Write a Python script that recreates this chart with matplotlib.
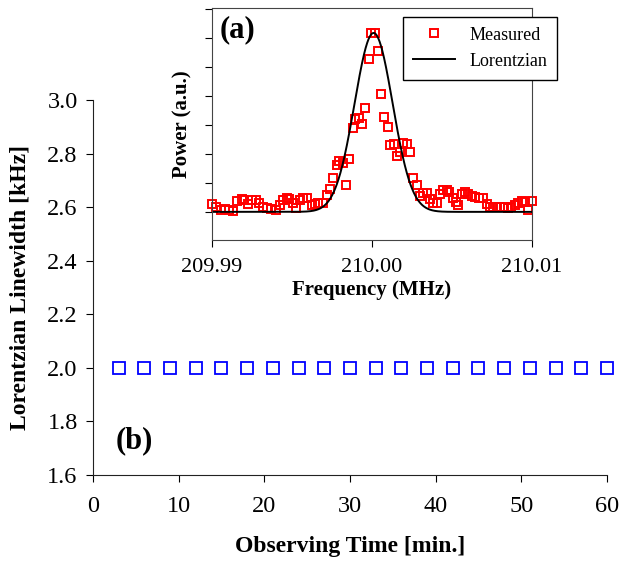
import numpy as np
import matplotlib
matplotlib.use('Agg')
import matplotlib.pyplot as plt

################################## DATA ##################################

# (b) linewidth vs observing time
obs_time = [3, 6, 9, 12, 15, 18, 21, 24, 27, 30, 33, 36, 39, 42, 45, 48, 51, 54, 57, 60]
linewidth = [2.0] * 20

# (a) measured spectrum: offset from 209.99 MHz in kHz, power in a.u.
meas_df_khz = [0.00, 0.25, 0.54, 0.81, 1.08, 1.33, 1.58, 1.85, 2.00, 2.27,
               2.52, 2.75, 2.96, 3.17, 3.42, 3.69, 4.00, 4.25, 4.46, 4.67,
               4.83, 5.04, 5.25, 5.50, 5.71, 5.96, 6.23, 6.44, 6.65, 6.92,
               7.17, 7.38, 7.58, 7.79, 7.96, 8.17, 8.38, 8.58, 8.79, 8.94,
               9.19, 9.40, 9.58, 9.79, 9.94, 10.19, 10.38, 10.58, 10.75, 11.00,
               11.13, 11.38, 11.58, 11.75, 11.96, 12.17, 12.38, 12.58, 12.79, 13.00,
               13.21, 13.42, 13.63, 13.83, 14.04, 14.25, 14.46, 14.67, 14.81, 15.08,
               15.25, 15.40, 15.60, 15.81, 16.02, 16.23, 16.44, 16.71, 16.96, 17.21,
               17.38, 17.58, 17.79, 18.00, 18.25, 18.52, 18.69, 18.94, 19.15, 19.35,
               19.56, 19.77, 19.98]
meas_power = [0.26, 0.18, 0.07, 0.09, 0.07, 0.03, 0.36, 0.44, 0.41, 0.28,
              0.41, 0.41, 0.32, 0.16, 0.13, 0.10, 0.07, 0.24, 0.41, 0.47,
              0.44, 0.30, 0.13, 0.41, 0.47, 0.49, 0.22, 0.28, 0.30, 0.30,
              0.59, 0.78, 1.16, 1.62, 1.76, 1.70, 0.92, 1.82, 2.89, 3.21,
              3.23, 3.02, 3.57, 5.28, 6.16, 6.16, 5.55, 4.07, 3.26, 2.94,
              2.31, 2.34, 1.94, 2.06, 2.37, 2.34, 2.05, 1.16, 0.91, 0.55,
              0.64, 0.64, 0.45, 0.32, 0.32, 0.61, 0.76, 0.76, 0.67, 0.47,
              0.34, 0.24, 0.62, 0.68, 0.62, 0.56, 0.53, 0.49, 0.47, 0.28,
              0.16, 0.16, 0.16, 0.18, 0.18, 0.13, 0.16, 0.22, 0.30, 0.36,
              0.33, 0.05, 0.38]

# fitted line shape parameters
fit_center = 210.0001   # MHz
fit_fwhm = 0.0028       # MHz
fit_amp = 6.17

################################## PLOT ##################################

plt.rcParams['font.family'] = ['Liberation Serif', 'DejaVu Serif']

fig = plt.figure(figsize=(6.44, 5.61), dpi=100)

# main axes (b)
ax = fig.add_axes([0.1444, 0.1533, 0.798, 0.668])
ax.plot(obs_time, linewidth, 's', ms=8.5, mfc='none', mec='#0000ff', mew=1.3,
        clip_on=False)
ax.set_xlim(0, 60)
ax.set_ylim(1.6, 3.0)
ax.set_xticks(np.arange(0, 61, 10))
ax.set_yticks(np.arange(1.6, 3.01, 0.2))
ax.set_yticklabels(['%.1f' % v for v in np.arange(1.6, 3.01, 0.2)])
for s in ['top', 'right']:
    ax.spines[s].set_visible(False)
for s in ['left', 'bottom']:
    ax.spines[s].set_color('#222222')
ax.tick_params(direction='out', length=5, labelsize=17.5, pad=6)
ax.tick_params(axis='x', pad=10)
ax.set_xlabel('Observing Time [min.]', fontsize=17, fontweight='bold', labelpad=14)
ax.set_ylabel('Lorentzian Linewidth [kHz]', fontsize=17, fontweight='bold', labelpad=12)
ax.text(2.6, 1.7, '(b)', fontsize=22, fontweight='bold')

# inset (a)
ins = fig.add_axes([0.3292, 0.5722, 0.4969, 0.4135])
freq = 209.99 + np.array(meas_df_khz) / 1000.0
ins.plot(freq, meas_power, 's', ms=5.5, mfc='none', mec='#ff0000', mew=1.4,
         label='Measured', clip_on=False)
fgrid = np.linspace(209.99, 210.01, 801)
sig = fit_fwhm / 2.3548
ins.plot(fgrid, fit_amp * np.exp(-0.5 * ((fgrid - fit_center) / sig) ** 2),
         color='black', lw=1.4, label='Lorentzian')
ins.set_xlim(209.99, 210.01)
ins.set_ylim(-0.97, 7.03)
ins.set_xticks([209.99, 210.00, 210.01])
ins.set_xticklabels(['209.99', '210.00', '210.01'])
ins.set_yticks(np.arange(0, 8))
ins.set_yticklabels([])
for s in ins.spines.values():
    s.set_color('#444444')
ins.tick_params(direction='out', length=5, labelsize=16, pad=6)
ins.tick_params(axis='x', pad=8)
ins.set_xlabel('Frequency (MHz)', fontsize=15, fontweight='bold', labelpad=2)
ins.set_ylabel('Power (a.u.)', fontsize=15, fontweight='bold', labelpad=3)
ins.text(0.025, 0.875, '(a)', transform=ins.transAxes, fontsize=22,
         fontweight='bold')
leg = ins.legend(loc='upper right', bbox_to_anchor=(0.865, 0.970),
                 bbox_transform=fig.transFigure, borderaxespad=0, fontsize=13,
                 frameon=True, fancybox=False, framealpha=1, edgecolor='black',
                 handlelength=2.3, borderpad=0.55, labelspacing=0.5)
leg.get_frame().set_linewidth(1.0)

fig.savefig('out.png', dpi=100)
